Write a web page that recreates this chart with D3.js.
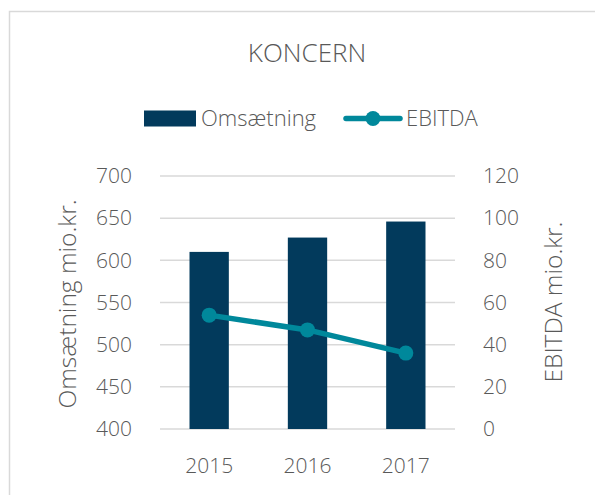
<!DOCTYPE html>
<html>
<head>
<meta charset="utf-8">
<script src="https://cdn.jsdelivr.net/npm/d3@7"></script>
<style>
  body { margin: 0; background: #fff; }
  text { font-family: "Open Sans", sans-serif; font-weight: 300; fill: #595959; }
</style>
</head>
<body>
<div id="chart"></div>
<script>
const years = ["2015", "2016", "2017"];
const omsaetning = [610, 627, 646];
const ebitda = [54, 47, 36];
const leftTicks = [400, 450, 500, 550, 600, 650, 700];
const rightTicks = [0, 20, 40, 60, 80, 100, 120];

const width = 595, height = 495;
const plot = {left: 160, right: 455, top: 176, bottom: 429};

const barColor = "#023a5c";
const lineColor = "#00889b";
const gridColor = "#d9d9d9";

let svg = d3.select("#chart")
    .append("svg")
    .attr("width", width)
    .attr("height", height);

// outer chart border (runs off the right/bottom edge)
svg.append("rect")
    .attr("x", 9.5)
    .attr("y", 11.5)
    .attr("width", 620)
    .attr("height", 520)
    .attr("fill", "#fff")
    .attr("stroke", gridColor)
    .attr("stroke-width", 1.5);

let xScale = d3.scaleBand()
    .domain(years)
    .range([plot.left, plot.right])
    .paddingInner(0.6)
    .paddingOuter(0.3);

let yLeft = d3.scaleLinear()
    .domain([400, 700])
    .range([plot.bottom, plot.top]);

let yRight = d3.scaleLinear()
    .domain([0, 120])
    .range([plot.bottom, plot.top]);

// gridlines
svg.append("g")
    .selectAll("line")
    .data(leftTicks)
    .enter().append("line")
    .attr("x1", plot.left)
    .attr("x2", plot.right)
    .attr("y1", d => yLeft(d))
    .attr("y2", d => yLeft(d))
    .attr("stroke", gridColor)
    .attr("stroke-width", 1.5);

// bars
svg.append("g")
    .selectAll("rect")
    .data(omsaetning)
    .enter().append("rect")
    .attr("x", (d, i) => xScale(years[i]))
    .attr("y", d => yLeft(d))
    .attr("width", xScale.bandwidth())
    .attr("height", d => plot.bottom - yLeft(d))
    .attr("fill", barColor);

// EBITDA line
let line = d3.line()
    .x((d, i) => xScale(years[i]) + xScale.bandwidth() / 2)
    .y(d => yRight(d));

svg.append("path")
    .datum(ebitda)
    .attr("d", line)
    .attr("fill", "none")
    .attr("stroke", lineColor)
    .attr("stroke-width", 5.5)
    .attr("stroke-linecap", "round");

svg.append("g")
    .selectAll("circle")
    .data(ebitda)
    .enter().append("circle")
    .attr("cx", (d, i) => xScale(years[i]) + xScale.bandwidth() / 2)
    .attr("cy", d => yRight(d))
    .attr("r", 7.5)
    .attr("fill", lineColor);

// axes
let leftAxis = d3.axisLeft(yLeft).tickValues(leftTicks).tickSize(0).tickPadding(28);
let rightAxis = d3.axisRight(yRight).tickValues(rightTicks).tickSize(0).tickPadding(28);
let bottomAxis = d3.axisBottom(xScale).tickSize(0).tickPadding(29);

svg.append("g")
    .attr("transform", `translate(${plot.left},0)`)
    .call(leftAxis);
svg.append("g")
    .attr("transform", `translate(${plot.right},0)`)
    .call(rightAxis);
svg.append("g")
    .attr("transform", `translate(0,${plot.bottom})`)
    .call(bottomAxis);

svg.selectAll(".domain").remove();
svg.selectAll(".tick text")
    .style("font-size", "21px")
    .attr("fill", "#595959");

// axis titles
svg.append("text")
    .attr("transform", "translate(76,304) rotate(-90)")
    .style("text-anchor", "middle")
    .style("font-size", "24.5px")
    .text("Omsætning mio.kr.");

svg.append("text")
    .attr("transform", "translate(562,302) rotate(-90)")
    .style("text-anchor", "middle")
    .style("font-size", "24.5px")
    .text("EBITDA mio.kr.");

// title
svg.append("text")
    .attr("x", 307)
    .attr("y", 62)
    .style("text-anchor", "middle")
    .style("font-size", "26px")
    .text("KONCERN");

// legend
let legend = svg.append("g");
legend.append("rect")
    .attr("x", 144)
    .attr("y", 110.5)
    .attr("width", 52)
    .attr("height", 16)
    .attr("fill", barColor);
legend.append("text")
    .attr("x", 201)
    .attr("y", 126)
    .style("font-size", "22px")
    .text("Omsætning");
legend.append("line")
    .attr("x1", 346)
    .attr("x2", 400)
    .attr("y1", 118.5)
    .attr("y2", 118.5)
    .attr("stroke", lineColor)
    .attr("stroke-width", 5.5)
    .attr("stroke-linecap", "round");
legend.append("circle")
    .attr("cx", 373)
    .attr("cy", 118.5)
    .attr("r", 7.5)
    .attr("fill", lineColor);
legend.append("text")
    .attr("x", 406)
    .attr("y", 126)
    .style("font-size", "22px")
    .text("EBITDA");
</script>
</body>
</html>
